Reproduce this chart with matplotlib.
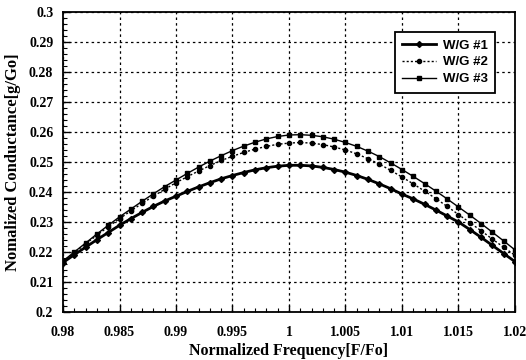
import matplotlib
matplotlib.use("Agg")
import matplotlib.pyplot as plt
from matplotlib.ticker import MultipleLocator, FixedLocator

freq = [0.980 + 0.001 * i for i in range(41)]

wg1 = [0.2165, 0.2191, 0.2216, 0.2241, 0.2265, 0.2289, 0.2311, 0.2332, 0.2352, 0.2370,
       0.2386, 0.2402, 0.2417, 0.2431, 0.2444, 0.2455, 0.2465, 0.2474, 0.2481, 0.2486,
       0.2489, 0.2489, 0.2487, 0.2482, 0.2475, 0.2466, 0.2455, 0.2442, 0.2427, 0.2411,
       0.2393, 0.2377, 0.2359, 0.2340, 0.2320, 0.2300, 0.2275, 0.2249, 0.2222, 0.2195,
       0.2168]
wg2 = [0.2168, 0.2198, 0.2227, 0.2256, 0.2284, 0.2311, 0.2337, 0.2362, 0.2386, 0.2409,
       0.2431, 0.2451, 0.2470, 0.2488, 0.2505, 0.2519, 0.2532, 0.2543, 0.2552, 0.2559,
       0.2563, 0.2565, 0.2563, 0.2558, 0.2550, 0.2540, 0.2527, 0.2511, 0.2493, 0.2472,
       0.2450, 0.2427, 0.2403, 0.2378, 0.2352, 0.2325, 0.2298, 0.2271, 0.2243, 0.2216,
       0.2189]
wg3 = [0.2170, 0.2200, 0.2230, 0.2260, 0.2289, 0.2317, 0.2343, 0.2369, 0.2394, 0.2418,
       0.2440, 0.2462, 0.2483, 0.2503, 0.2521, 0.2538, 0.2553, 0.2566, 0.2577, 0.2585,
       0.2590, 0.2591, 0.2589, 0.2584, 0.2576, 0.2565, 0.2552, 0.2536, 0.2518, 0.2497,
       0.2475, 0.2452, 0.2428, 0.2403, 0.2377, 0.2350, 0.2323, 0.2295, 0.2266, 0.2237,
       0.2207]

series_labels = ["W/G #1", "W/G #2", "W/G #3"]
x_ticks = [0.98, 0.985, 0.99, 0.995, 1.0, 1.005, 1.01, 1.015, 1.02]
x_tick_labels = ["0.98", "0.985", "0.99", "0.995", "1", "1.005", "1.01", "1.015", "1.02"]
y_ticks = [0.2, 0.21, 0.22, 0.23, 0.24, 0.25, 0.26, 0.27, 0.28, 0.29, 0.3]
y_tick_labels = ["0.2", "0.21", "0.22", "0.23", "0.24", "0.25", "0.26", "0.27", "0.28", "0.29", "0.3"]

fig = plt.figure(figsize=(5.26, 3.6), dpi=100)
ax = fig.add_axes([0.1198, 0.1333, 0.8592, 0.8334])

ax.plot(freq, wg1, color="black", lw=2.0, marker="D", ms=3, label=series_labels[0])
ax.plot(freq, wg2, color="black", lw=1.0, ls=(0, (1.5, 1.5)), marker="o", ms=3, label=series_labels[1])
ax.plot(freq, wg3, color="black", lw=1.0, marker="s", ms=3.5, label=series_labels[2])

ax.set_xlim(0.98, 1.02)
ax.set_ylim(0.2, 0.3)
ax.xaxis.set_major_locator(FixedLocator(x_ticks))
ax.set_xticklabels(x_tick_labels)
ax.yaxis.set_major_locator(FixedLocator(y_ticks))
ax.set_yticklabels(y_tick_labels)
ax.xaxis.set_minor_locator(MultipleLocator(0.001))
ax.yaxis.set_minor_locator(MultipleLocator(0.002))

ax.grid(True, which="major", color="black", ls=(0, (2, 2.5)), lw=0.9)
ax.tick_params(which="both", direction="in", top=False, right=False, colors="black")
ax.tick_params(which="major", length=5, width=1)
ax.tick_params(which="minor", length=3, width=0.8)
ax.tick_params(axis="x", which="major", pad=10)
ax.tick_params(axis="y", which="major", pad=7)
for lab in ax.get_xticklabels() + ax.get_yticklabels():
    lab.set_fontfamily("Liberation Serif")
    lab.set_fontweight("bold")
    lab.set_fontsize(10)
for sp in ax.spines.values():
    sp.set_linewidth(1.3)
    sp.set_color("black")

ax.set_xlabel("Normalized Frequency[F/Fo]", fontfamily="Liberation Serif",
              fontweight="bold", fontsize=11.5, labelpad=3)
ax.set_ylabel("Nomalized Conductance[g/Go]", fontfamily="Liberation Serif",
              fontweight="bold", fontsize=12, labelpad=6)

leg = ax.legend(loc="upper right", bbox_to_anchor=(0.956, 0.933), borderaxespad=0,
                fancybox=False, framealpha=1, edgecolor="black", handlelength=2.6,
                numpoints=1,
                prop={"family": "Liberation Sans", "weight": "bold", "size": 9.5},
                borderpad=0.55, labelspacing=0.35, handletextpad=0.5)
leg.get_frame().set_linewidth(1.3)

fig.savefig("out.png", dpi=100)
